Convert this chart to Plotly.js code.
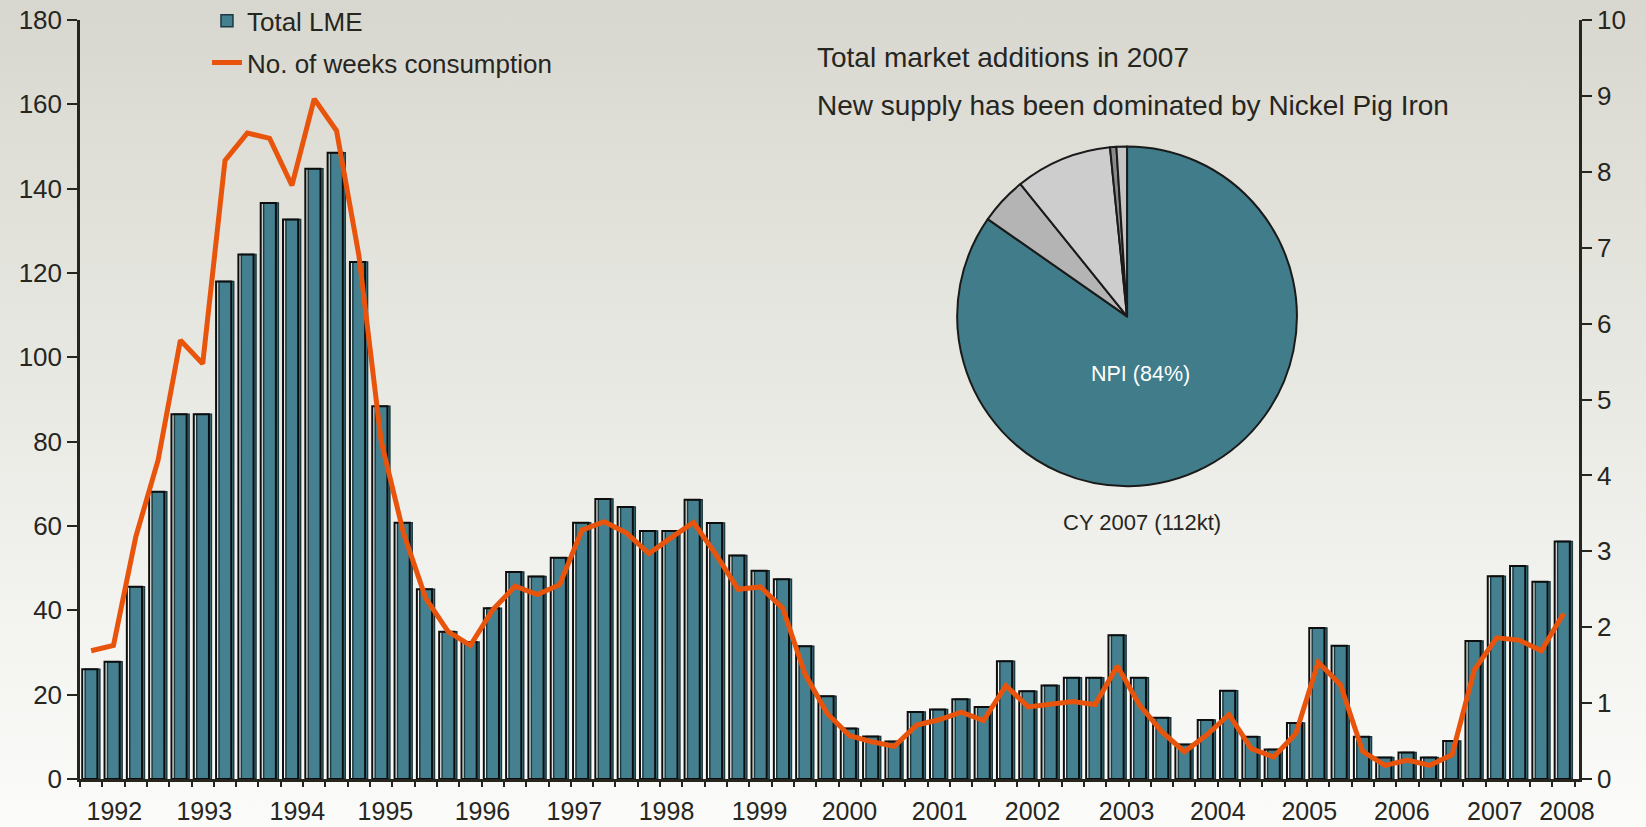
<!DOCTYPE html>
<html><head><meta charset="utf-8">
<script src="https://cdn.plot.ly/plotly-3.0.1.min.js"></script>
<style>
html,body{margin:0;padding:0;}
body{width:1646px;height:827px;overflow:hidden;background:linear-gradient(to bottom,#d8d7cf 0%,#e1e1da 25%,#eaeae5 50%,#f3f3f0 75%,#fbfbf9 100%);}
#chart{width:1646px;height:827px;}
</style></head><body><div id="chart"></div>
<script>
// Total LME stocks (kt), quarterly bars
const totalLME = [26.0, 27.8, 45.6, 68.1, 86.5, 86.5, 118.0, 124.4, 136.6, 132.7,
  144.7, 148.5, 122.6, 88.4, 60.8, 45.0, 34.9, 32.5, 40.5, 49.1,
  48.0, 52.5, 60.8, 66.4, 64.5, 58.8, 58.8, 66.2, 60.7, 53.0,
  49.4, 47.4, 31.5, 19.6, 12.0, 10.1, 8.9, 15.9, 16.5, 18.9,
  17.1, 27.9, 20.8, 22.2, 24.0, 24.0, 34.1, 24.0, 14.5, 8.2,
  14.0, 20.9, 10.0, 7.0, 13.3, 35.8, 31.6, 10.0, 5.1, 6.3,
  5.1, 9.0, 32.7, 48.1, 50.5, 46.8, 56.3];
// No. of weeks consumption (right axis)
const weeksConsumption = [1.69, 1.76, 3.19, 4.20, 5.78, 5.47, 8.15, 8.51, 8.44, 7.82,
  8.96, 8.54, 6.90, 4.45, 3.24, 2.38, 1.94, 1.76, 2.23, 2.54,
  2.43, 2.56, 3.28, 3.39, 3.24, 2.97, 3.18, 3.38, 2.96, 2.50,
  2.53, 2.25, 1.38, 0.86, 0.57, 0.49, 0.43, 0.71, 0.78, 0.88,
  0.77, 1.23, 0.95, 0.99, 1.02, 0.98, 1.49, 0.97, 0.62, 0.36,
  0.58, 0.85, 0.40, 0.29, 0.60, 1.54, 1.24, 0.36, 0.18, 0.25,
  0.18, 0.32, 1.44, 1.86, 1.83, 1.69, 2.18];
const yearLabels = ['1992','1993','1994','1995','1996','1997','1998','1999','2000',
  '2001','2002','2003','2004','2005','2006','2007','2008'];
const yearTickPos = [1.04, 5.07, 9.24, 13.19, 17.54, 21.66, 25.79, 29.96, 33.99,
  38.03, 42.2, 46.41, 50.5, 54.6, 58.75, 62.92, 66.15];
// Pie: total market additions in 2007
const pieLabels = ['NPI', 'Other 1', 'Other 2', 'Other 3', 'Other 4'];
const pieShares = [84.7, 4.5, 9.2, 0.6, 1.0];
const pieColors = ['#407c8a', '#b4b4b4', '#cdcdcd', '#8a8a8a', '#c4c4c4'];

const periodIdx = totalLME.map((_, i) => i);
const FONT = 'Liberation Sans, Arial, sans-serif';
const INK = '#26261f';

const traces = [
  {type: 'bar', name: 'Total LME', x: periodIdx, y: totalLME, legendgroup: 'a',
   offset: -0.27, width: 0.66,
   marker: {color: '#44808f', line: {color: '#1b3940', width: 1.5}},
   hoverinfo: 'y'},
  {type: 'bar', name: 'Total LME outline', x: periodIdx, y: totalLME, legendgroup: 'a',
   offset: -0.40, width: 0.68, showlegend: false,
   marker: {color: 'rgba(0,0,0,0)', line: {color: '#0d0d0d', width: 2}},
   hoverinfo: 'skip'},
  {type: 'scatter', mode: 'lines', name: 'No. of weeks consumption', legendgroup: 'b',
   x: periodIdx, y: weeksConsumption, yaxis: 'y2',
   line: {color: '#e8540c', width: 5}},
  {type: 'pie', labels: pieLabels, values: pieShares, sort: false,
   direction: 'clockwise', rotation: 0, textinfo: 'none', showlegend: false,
   marker: {colors: pieColors, line: {color: '#1a1a1a', width: 2}},
   domain: {x: [0.5851, 0.8119], y: [0.3858, 0.8334]}}
];

const axisCommon = {showgrid: false, zeroline: false, showline: true,
  linecolor: INK, ticks: 'outside', tickcolor: INK, automargin: false,
  tickfont: {family: FONT, size: 26, color: INK}};

const layout = {
  width: 1646, height: 827,
  margin: {l: 80, r: 67, t: 20, b: 48, pad: 0, autoexpand: false},
  paper_bgcolor: 'rgba(0,0,0,0)', plot_bgcolor: 'rgba(0,0,0,0)',
  barmode: 'overlay',
  font: {family: FONT, color: INK},
  xaxis: Object.assign({}, axisCommon, {
    range: [-0.5, 66.69], tickmode: 'array', tickvals: yearTickPos, ticktext: yearLabels,
    ticks: '', linewidth: 3, ticklabelstandoff: 8,
    tickfont: {family: FONT, size: 25, color: INK},
    minor: {tickmode: 'linear', tick0: -0.5, dtick: 1, ticks: 'outside', ticklen: 5,
            tickwidth: 1.5, tickcolor: INK, showgrid: false}
  }),
  yaxis: Object.assign({}, axisCommon, {
    range: [0, 180], dtick: 20, ticklen: 10, tickwidth: 2, linewidth: 2.5
  }),
  yaxis2: Object.assign({}, axisCommon, {
    range: [0, 10], dtick: 1, side: 'right', overlaying: 'y', anchor: 'x',
    ticklen: 10, tickwidth: 2, linewidth: 2.5
  }),
  legend: {x: 0.0847, y: 1.030, xanchor: 'left', yanchor: 'top',
    bgcolor: 'rgba(0,0,0,0)', font: {family: FONT, size: 26, color: INK},
    traceorder: 'grouped', tracegroupgap: 5},
  annotations: [
    {xref: 'paper', yref: 'paper', x: 0.4903, y: 0.950, xanchor: 'left', yanchor: 'middle',
     showarrow: false, text: 'Total market additions in 2007',
     font: {family: FONT, size: 28, color: INK}},
    {xref: 'paper', yref: 'paper', x: 0.4903, y: 0.8874, xanchor: 'left', yanchor: 'middle',
     showarrow: false, text: 'New supply has been dominated by Nickel Pig Iron',
     font: {family: FONT, size: 28, color: INK}},
    {xref: 'paper', yref: 'paper', x: 0.7078, y: 0.5332, xanchor: 'center', yanchor: 'middle',
     showarrow: false, text: 'NPI (84%)', font: {family: FONT, size: 21.5, color: '#ffffff'}},
    {xref: 'paper', yref: 'paper', x: 0.7085, y: 0.3384, xanchor: 'center', yanchor: 'middle',
     showarrow: false, text: 'CY 2007 (112kt)', font: {family: FONT, size: 22, color: INK}}
  ]
};

Plotly.newPlot('chart', traces, layout, {displayModeBar: false, responsive: false});
</script>
</body></html>
